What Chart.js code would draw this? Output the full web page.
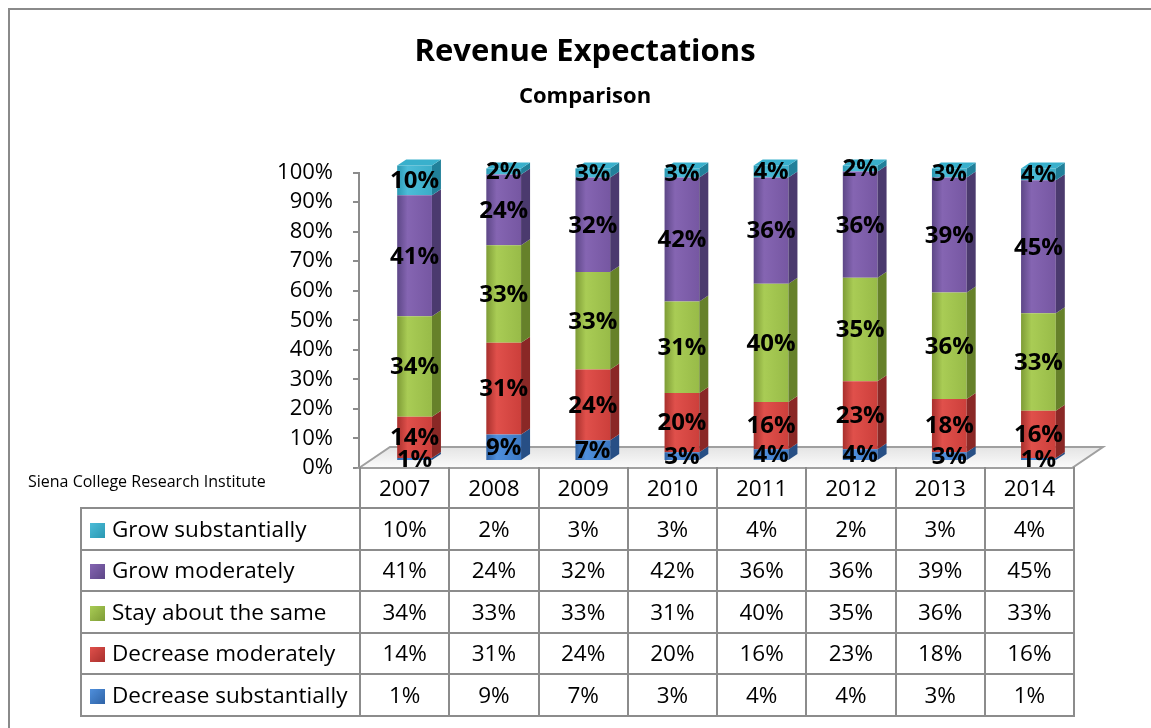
<!DOCTYPE html>
<html>
<head>
<meta charset="utf-8">
<title>Revenue Expectations</title>
<script src="https://cdn.jsdelivr.net/npm/chart.js@4.4.1/dist/chart.umd.min.js"></script>
<style>
  body { margin: 0; background: #fff; font-family: "Open Sans", sans-serif; }
  #wrap { position: relative; width: 1151px; height: 728px; overflow: hidden; }
  #frame { position: absolute; left: 8px; top: 8px; width: 1200px; height: 800px;
           border-left: 2px solid #8a8a8a; border-top: 2px solid #8a8a8a; }
  #chartBox { position: absolute; left: 0; top: 0; width: 1151px; height: 728px; }
  #source { position: absolute; left: 28px; top: 470px; font-size: 16px; color: #000; white-space: nowrap; }
  #dataTable { position: absolute; left: 80px; top: 467px; width: 993px; border-collapse: collapse;
               table-layout: fixed; font-size: 22.5px; color: #000; }
  #dataTable td { border: 2px solid #8c8c8c; text-align: center; padding: 0; height: 39.6px; line-height: 1; }
  #dataTable tr.head td { border-top: none; height: 38px; padding-top: 2px; }
  #dataTable td.blank { border: none; }
  #dataTable td.name { text-align: left; padding-left: 8px; white-space: nowrap; }
  .key { display: inline-block; width: 15px; height: 15px; margin-right: 7px; vertical-align: -1px; }
</style>
</head>
<body>
<div id="wrap">
  <div id="frame"></div>
  <div id="chartBox"><canvas id="revChart"></canvas></div>
  <div id="source">Siena College Research Institute</div>
  <table id="dataTable"></table>
</div>
<script>
// values (percent of respondents)
const years = ['2007', '2008', '2009', '2010', '2011', '2012', '2013', '2014'];
const decreaseSub = [1, 9, 7, 3, 4, 4, 3, 1];
const decreaseMod = [14, 31, 24, 20, 16, 23, 18, 16];
const staySame = [34, 33, 33, 31, 40, 35, 36, 33];
const growMod = [41, 24, 32, 42, 36, 36, 39, 45];
const growSub = [10, 2, 3, 3, 4, 2, 3, 4];
const yTicks = [0, 10, 20, 30, 40, 50, 60, 70, 80, 90, 100];

// bottom of the stack first
const seriesNames = ['Decrease substantially', 'Decrease moderately', 'Stay about the same', 'Grow moderately', 'Grow substantially'];
const seriesValues = [decreaseSub, decreaseMod, staySame, growMod, growSub];
const palette = [
  { dark: '#2f63a6', light: '#4f8fdc', base: '#3b78c4', side: '#274f85', top: '#5a9ae0' },
  { dark: '#a8302d', light: '#e0504b', base: '#cc3f3b', side: '#8a2826', top: '#e46a66' },
  { dark: '#7e9c36', light: '#a9cc55', base: '#98bb48', side: '#66812a', top: '#b9d873' },
  { dark: '#5d4787', light: '#8565b2', base: '#7657a2', side: '#4b3a6e', top: '#9a7cc4' },
  { dark: '#2a98b2', light: '#4cbcd8', base: '#3aadc8', side: '#21809a', top: '#39b0cc' }
];

const barPct = 0.39;
const shiftX = 11, shiftY = 7;   // bars sit part way back on the floor
const sideDx = 9, sideDy = 6;    // depth of each column
const floorDx = 31, floorDy = 21;
const fontFamily = '"Open Sans", sans-serif';

function frontFill(i) {
  return function (ctx) {
    const chart = ctx.chart;
    const xs = chart.scales.x;
    if (!xs || ctx.dataIndex === undefined || !chart.chartArea) return palette[i].base;
    const cx = xs.getPixelForValue(ctx.dataIndex);
    const w = xs.width / years.length * barPct;
    const g = chart.ctx.createLinearGradient(cx - w / 2, 0, cx + w / 2, 0);
    g.addColorStop(0, palette[i].dark);
    g.addColorStop(0.3, palette[i].light);
    g.addColorStop(1, palette[i].base);
    return g;
  };
}

const depthPlugin = {
  id: 'depth',
  beforeDatasetsDraw(chart) {
    const { ctx, chartArea } = chart;
    const y0 = chart.scales.y.getPixelForValue(0);
    ctx.save();
    ctx.beginPath();
    ctx.moveTo(chartArea.left, y0);
    ctx.lineTo(chartArea.left + floorDx, y0 - floorDy);
    ctx.lineTo(chartArea.right + floorDx, y0 - floorDy);
    ctx.lineTo(chartArea.right, y0);
    ctx.closePath();
    const g = ctx.createLinearGradient(0, y0 - floorDy, 0, y0);
    g.addColorStop(0, '#e4e4e4');
    g.addColorStop(1, '#fbfbfb');
    ctx.fillStyle = g;
    ctx.fill();
    ctx.strokeStyle = '#a0a0a0';
    ctx.lineWidth = 2;
    ctx.stroke();
    ctx.restore();
    ctx.save();
    ctx.translate(shiftX, -shiftY);
  },
  afterDatasetsDraw(chart) {
    const ctx = chart.ctx;
    const last = chart.data.datasets.length - 1;
    chart.data.datasets.forEach((ds, i) => {
      chart.getDatasetMeta(i).data.forEach((bar) => {
        const p = bar.getProps(['x', 'y', 'base', 'width'], true);
        const r = p.x + p.width / 2;
        const top = Math.min(p.y, p.base), bot = Math.max(p.y, p.base);
        ctx.beginPath();
        ctx.moveTo(r, bot);
        ctx.lineTo(r, top);
        ctx.lineTo(r + sideDx, top - sideDy);
        ctx.lineTo(r + sideDx, bot - sideDy);
        ctx.closePath();
        ctx.fillStyle = palette[i].side;
        ctx.fill();
        if (i === last) {
          const l = p.x - p.width / 2;
          ctx.beginPath();
          ctx.moveTo(l, top);
          ctx.lineTo(r, top);
          ctx.lineTo(r + sideDx, top - sideDy);
          ctx.lineTo(l + sideDx, top - sideDy);
          ctx.closePath();
          ctx.fillStyle = palette[i].top;
          ctx.fill();
        }
      });
    });
    ctx.fillStyle = '#000';
    ctx.font = 'bold 24px ' + fontFamily;
    ctx.textAlign = 'center';
    ctx.textBaseline = 'middle';
    chart.data.datasets.forEach((ds, i) => {
      chart.getDatasetMeta(i).data.forEach((bar, j) => {
        const p = bar.getProps(['x', 'y', 'base'], true);
        ctx.fillText(ds.data[j] + '%', p.x, (p.y + p.base) / 2 + 1);
      });
    });
    ctx.restore();
  }
};

Chart.defaults.font.family = fontFamily;
Chart.defaults.color = '#000';

new Chart(document.getElementById('revChart'), {
  type: 'bar',
  data: {
    labels: years,
    datasets: seriesNames.map((name, i) => ({
      label: name,
      data: seriesValues[i],
      backgroundColor: frontFill(i),
      borderWidth: 0,
      barPercentage: barPct,
      categoryPercentage: 1,
      clip: false
    }))
  },
  options: {
    responsive: true,
    maintainAspectRatio: false,
    animation: false,
    layout: { padding: { left: 19, right: 0, top: 0, bottom: 260 } },
    plugins: {
      legend: { display: false },
      tooltip: { enabled: false },
      title: {
        display: true,
        text: 'Revenue Expectations',
        font: { size: 31, weight: 'bold' },
        padding: { top: 34, bottom: 4 }
      },
      subtitle: {
        display: true,
        text: 'Comparison',
        font: { size: 22, weight: 'bold' },
        padding: { top: 8, bottom: 63 }
      }
    },
    scales: {
      x: { stacked: true, display: false },
      y: {
        stacked: true,
        min: 0,
        max: 100,
        afterFit: scale => { scale.width = 340; },
        afterBuildTicks: scale => { scale.ticks = yTicks.map(v => ({ value: v })); },
        ticks: { callback: v => v + '%', font: { size: 22 }, padding: 20, color: '#000' },
        grid: { drawOnChartArea: false, drawTicks: true, tickLength: 6, color: '#8c8c8c', lineWidth: 2 },
        border: { display: true, color: '#8c8c8c', width: 2 }
      },
      // empty right-hand axis keeps the plot clear of the right edge
      yRight: {
        position: 'right',
        afterFit: scale => { scale.width = 79; },
        ticks: { display: false },
        grid: { display: false },
        border: { display: false }
      }
    }
  },
  plugins: [depthPlugin]
});

function buildTable() {
  let html = '<colgroup><col style="width:279px">' + years.map(() => '<col style="width:89.25px">').join('') + '</colgroup>';
  html += '<tr class="head"><td class="blank"></td>' + years.map(y => '<td>' + y + '</td>').join('') + '</tr>';
  for (let i = seriesNames.length - 1; i >= 0; i--) {
    const c = palette[i];
    html += '<tr><td class="name"><span class="key" style="background:linear-gradient(135deg,' + c.light + ',' + c.dark + ')"></span>' +
      seriesNames[i] + '</td>' + seriesValues[i].map(v => '<td>' + v + '%</td>').join('') + '</tr>';
  }
  document.getElementById('dataTable').innerHTML = html;
}
buildTable();
</script>
</body>
</html>
